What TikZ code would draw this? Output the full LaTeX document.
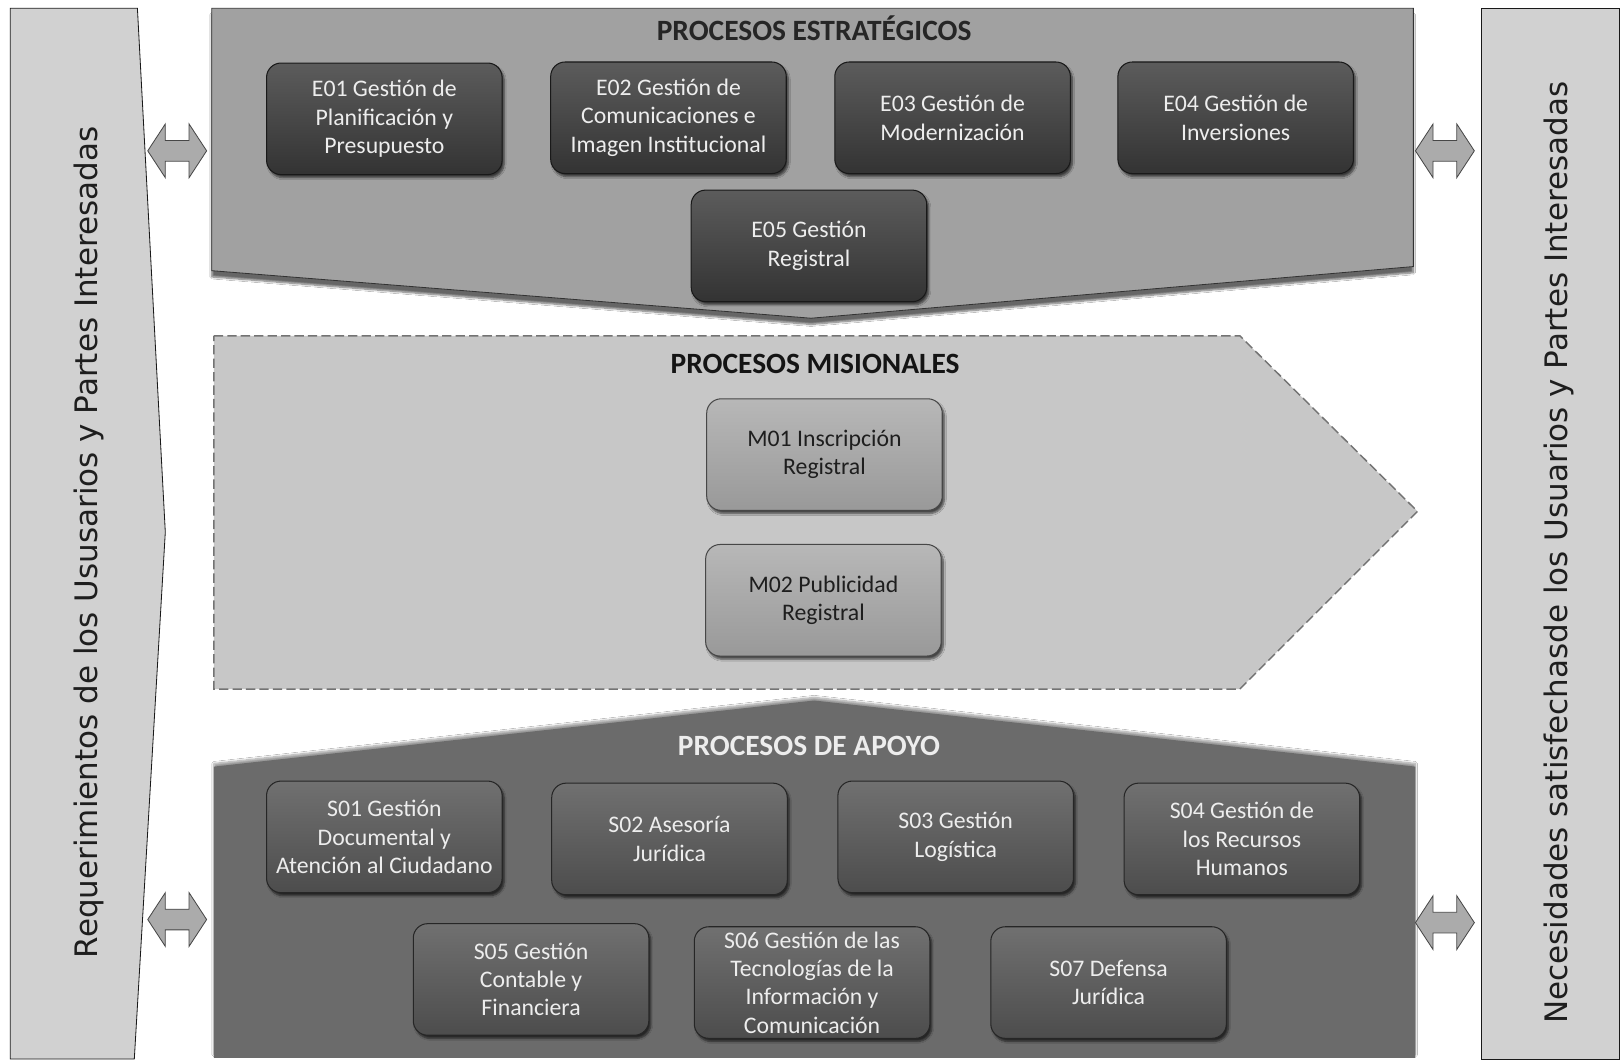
\documentclass[tikz,border=0pt]{standalone}
\usepackage{fontspec}
\setmainfont{Carlito}
\newfontfamily\sidefont{DejaVu Sans}
\usetikzlibrary{shadows.blur}
\definecolor{txtlight}{HTML}{EDEDED}
\definecolor{txtdark}{HTML}{1E1E1E}
\begin{document}
\begin{tikzpicture}[x=1pt,y=-1pt,
  procbox/.style={rounded corners=14pt, minimum width=228pt, minimum height=108pt,
    inner sep=0pt, align=center, font=\fontsize{23}{27.5}\selectfont,
    blur shadow={shadow xshift=2pt, shadow yshift=-3pt, shadow blur steps=6, shadow opacity=65}},
  ebox/.style={procbox, draw=black!90, line width=1pt, top color=black!64, bottom color=black!80, text=txtlight},
  mbox/.style={procbox, draw=black!72, line width=1pt, top color=black!28, bottom color=black!40, text=txtdark},
  sbox/.style={procbox, draw=black!85, line width=1pt, top color=black!56, bottom color=black!70, text=txtlight},
  ptitle/.style={font=\fontsize{28.5}{30}\selectfont\bfseries},
  sidetext/.style={font=\sidefont\fontsize{30}{32}\selectfont, rotate=90, text=txtdark},
  darrowshape/.style={fill=black!33, draw=black!72, line width=0.8pt, line join=miter},
  sidepanel/.style={fill=black!18, draw=black!90, line width=0.8pt}
]
\useasboundingbox[fill=white] (0,0) rectangle (1568,1027);

% side panels
\draw[sidepanel] (10,8) -- (133,8) -- (160,515) -- (130,1025) -- (10,1025) -- cycle;
\draw[sidepanel] (1434,8) -- (1567,8) -- (1567,1025) -- (1434,1025) -- cycle;
\node[sidetext] (leftt) at (86,525) {Requerimientos de los Ususarios y Partes Interesadas};
\node[sidetext] (rightt) at (1509,535) {Necesidades satisfechasde los Usuarios y Partes Interesadas};

% strategic panel
\draw[fill=black!37, draw=black!80, line width=0.8pt,
  blur shadow={shadow xshift=0pt, shadow yshift=-6pt, shadow blur steps=8, shadow opacity=60}]
  (205,8) -- (1368,8) -- (1368,258) -- (785,308) -- (205,262) -- cycle;
\node[ptitle, text=black!85] (tE) at (788,27) {PROCESOS ESTRATÉGICOS};

% misional panel
\draw[fill=black!22, draw=black!55, line width=1.4pt, dash pattern=on 9pt off 4pt]
  (207,325) -- (1200,325) -- (1372,495) -- (1200,667) -- (207,667) -- cycle;
\node[ptitle, text=black!92] (tM) at (789,352) {PROCESOS MISIONALES};

% apoyo panel
\fill[black!58, blur shadow={shadow xshift=0pt, shadow yshift=3pt, shadow blur steps=8, shadow opacity=40}]
  (207,742) -- (788,678) -- (1370,742) -- (1370,1024) -- (207,1024) -- cycle;
\node[ptitle, text=txtlight] (tS) at (783,722) {PROCESOS DE APOYO};

% double arrows
\foreach \cx/\cy in {171.5/146, 1398.5/146, 171.5/890, 1398.5/893}{
  \draw[darrowshape] (\cx-28.5,\cy) -- ++(17,-26) -- ++(0,16) -- ++(23,0) -- ++(0,-16)
    -- ++(17,26) -- ++(-17,26) -- ++(0,-16) -- ++(-23,0) -- ++(0,16) -- cycle;
}

% strategic boxes
\node[ebox] (E01) at (372,115) {E01 Gestión de\\Planificación y\\Presupuesto};
\node[ebox] (E02) at (647,114) {E02 Gestión de\\Comunicaciones e\\Imagen Institucional};
\node[ebox] (E03) at (922,114) {E03 Gestión de\\Modernización};
\node[ebox] (E04) at (1196,114) {E04 Gestión de\\Inversiones};
\node[ebox] (E05) at (783,238) {E05 Gestión\\Registral};

% misional boxes
\node[mbox] (M01) at (798,440) {M01 Inscripción\\Registral};
\node[mbox] (M02) at (797,581) {M02 Publicidad\\Registral};

% support boxes
\node[sbox] (S01) at (372,810) {S01 Gestión\\Documental y\\Atención al Ciudadano};
\node[sbox] (S02) at (648,812) {S02 Asesoría\\Jurídica};
\node[sbox] (S03) at (925,810) {S03 Gestión\\Logística};
\node[sbox] (S04) at (1202,812) {S04 Gestión de\\los Recursos\\Humanos};
\node[sbox] (S05) at (514,948) {S05 Gestión\\Contable y\\Financiera};
\node[sbox] (S06) at (786,951) {S06 Gestión de las\\Tecnologías de la\\Información y\\Comunicación};
\node[sbox] (S07) at (1073,951) {S07 Defensa\\Jurídica};
\end{tikzpicture}
\end{document}
